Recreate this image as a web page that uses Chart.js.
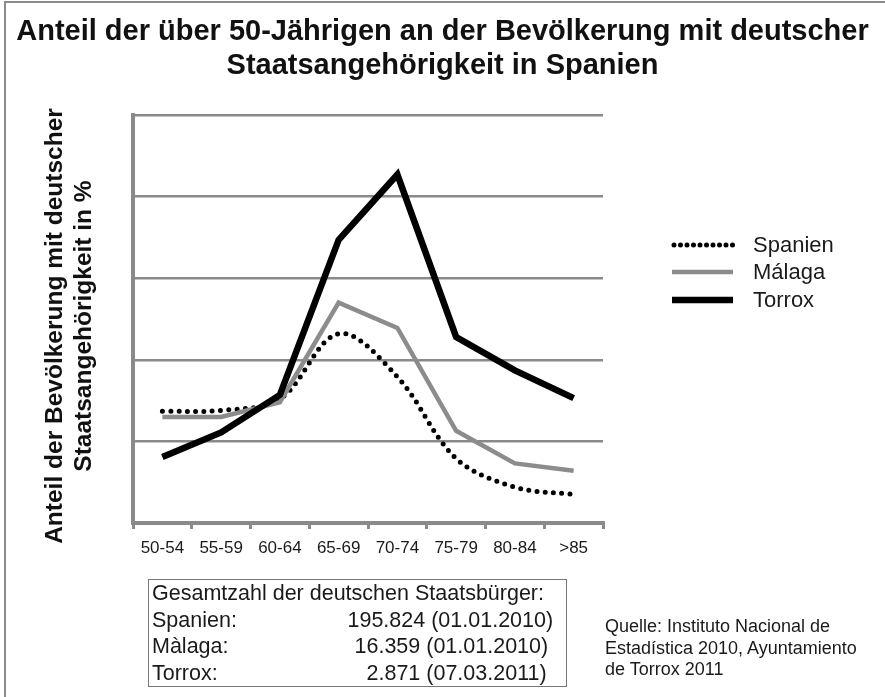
<!DOCTYPE html>
<html>
<head>
<meta charset="utf-8">
<script src="https://cdn.jsdelivr.net/npm/chart.js@4/dist/chart.umd.min.js"></script>
<style>
html,body{margin:0;padding:0;background:#fff;}
body{width:885px;height:697px;position:relative;overflow:hidden;font-family:"Liberation Sans",Arial,sans-serif;color:#1a1a1a;}
#frame{position:absolute;left:4px;top:1px;width:900px;height:720px;border-top:2.5px solid #8a8a8a;border-left:2.5px solid #8a8a8a;box-sizing:border-box;}
#title{position:absolute;left:0;top:13px;width:885px;text-align:center;font-weight:bold;font-size:29px;line-height:34px;color:#111;}
#ytitle{position:absolute;left:-182px;top:297px;width:500px;height:58px;text-align:center;font-weight:bold;font-size:24.5px;line-height:29px;color:#111;transform:rotate(-90deg);transform-origin:50% 50%;white-space:nowrap;}
#chart{position:absolute;left:0;top:0;}
#box{position:absolute;left:148px;top:579px;width:419px;height:108px;border:1.5px solid #777;box-sizing:border-box;font-size:21.5px;}
#box div{position:absolute;white-space:nowrap;line-height:26.7px;}
#source{position:absolute;left:605px;top:616px;font-size:18px;line-height:21.7px;white-space:nowrap;}
</style>
</head>
<body>
<div id="frame"></div>
<canvas id="chart" width="885" height="697"></canvas>
<div id="title">Anteil der über 50-Jährigen an der Bevölkerung mit deutscher<br>Staatsangehörigkeit in Spanien</div>
<div id="ytitle">Anteil der Bevölkerung mit deutscher<br>Staatsangehörigkeit in %</div>
<div id="box"></div>
<div id="source">Quelle: Instituto Nacional de<br>Estadística 2010, Ayuntamiento<br>de Torrox 2011</div>
<script>
// ---- data ----
const categories = ['50-54','55-59','60-64','65-69','70-74','75-79','80-84','>85'];
const spanien = [1.37, 1.38, 1.52, 2.32, 1.79, 0.79, 0.44, 0.35];
const malaga  = [1.30, 1.30, 1.48, 2.70, 2.39, 1.13, 0.73, 0.64];
const torrox  = [0.81, 1.11, 1.57, 3.47, 4.27, 2.28, 1.87, 1.53];
const seriesNames = ['Spanien', 'Málaga', 'Torrox'];
const yMin = 0, yMax = 5, yStep = 1;

const tableHeader = 'Gesamtzahl der deutschen Staatsbürger:';
const tableNames = ['Spanien:', 'Màlaga:', 'Torrox:'];
const tableValues = ['195.824 (01.01.2010)', '16.359 (01.01.2010)', '2.871 (07.03.2011)'];

// ---- table box ----
const box = document.getElementById('box');
const valueLeft = [198.5, 205.5, 217.5];
function addDiv(txt, left, top){ const d=document.createElement('div'); d.textContent=txt; d.style.left=left+'px'; d.style.top=top+'px'; box.appendChild(d); }
addDiv(tableHeader, 3, 0);
tableNames.forEach((n,i)=>{ addDiv(n, 3, 26.7*(i+1)); addDiv(tableValues[i], valueLeft[i], 26.7*(i+1)); });

const FONT = '"Liberation Sans", Arial, sans-serif';
const GRID = '#8a8a8a';

const legendPlugin = {
  id: 'customLegend',
  afterDraw(chart){
    const ctx = chart.ctx;
    const ys = [245, 272, 300];
    chart.data.datasets.forEach((ds, i) => {
      ctx.save();
      ctx.strokeStyle = ds.borderColor;
      ctx.lineWidth = ds.borderWidth;
      ctx.lineCap = ds.borderCapStyle || 'butt';
      ctx.setLineDash(ds.borderDash ? [0, 6.5] : []);
      ctx.beginPath();
      ctx.moveTo(ds.borderDash ? 674 : 672, ys[i]);
      ctx.lineTo(733, ys[i]);
      ctx.stroke();
      ctx.setLineDash([]);
      ctx.fillStyle = '#1a1a1a';
      ctx.font = '22px ' + FONT;
      ctx.textBaseline = 'middle';
      ctx.textAlign = 'left';
      ctx.fillText(ds.label, 753, ys[i] + 1);
      ctx.restore();
    });
  }
};

new Chart(document.getElementById('chart'), {
  type: 'line',
  data: {
    labels: categories,
    datasets: [
      { label: seriesNames[0], data: spanien, borderColor: '#000', borderWidth: 5, borderDash: [0, 8.3], borderCapStyle: 'round', tension: 0.35, pointRadius: 0, fill: false, order: 3 },
      { label: seriesNames[1], data: malaga, borderColor: '#8c8c8c', borderWidth: 4.5, borderJoinStyle: 'miter', tension: 0, pointRadius: 0, fill: false, order: 2 },
      { label: seriesNames[2], data: torrox, borderColor: '#000', borderWidth: 6.5, borderJoinStyle: 'miter', tension: 0, pointRadius: 0, fill: false, order: 1 }
    ]
  },
  options: {
    responsive: false,
    animation: false,
    events: [],
    layout: { padding: { left: 0, top: 115, right: 282, bottom: 134 } },
    plugins: { legend: { display: false }, title: { display: false }, tooltip: { enabled: false } },
    scales: {
      x: {
        offset: true,
        afterFit: s => { s.height = 40; },
        grid: { display: true, drawOnChartArea: false, drawTicks: true, tickLength: 6, color: GRID, lineWidth: 3, offset: true },
        border: { display: true, color: GRID, width: 4 },
        ticks: { color: '#1a1a1a', font: { family: FONT, size: 17 }, padding: 9, maxRotation: 0, autoSkip: false }
      },
      y: {
        min: yMin, max: yMax,
        afterFit: s => { s.width = 133; },
        grid: { display: true, drawTicks: false, color: GRID, lineWidth: 2.5 },
        border: { display: true, color: GRID, width: 4 },
        ticks: { display: false, stepSize: yStep }
      }
    }
  },
  plugins: [legendPlugin]
});
</script>
</body>
</html>
